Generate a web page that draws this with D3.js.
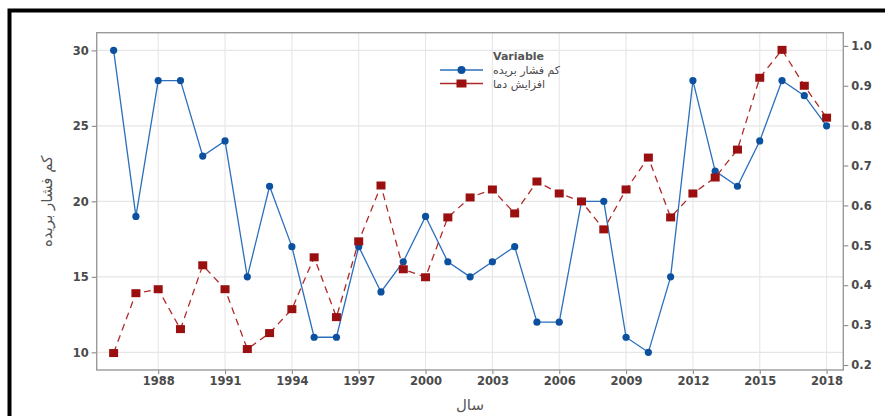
<!DOCTYPE html>
<html>
<head>
<meta charset="utf-8">
<script src="https://cdn.jsdelivr.net/npm/d3@7"></script>
<style>
  body { margin: 0; background: #fff; }
  svg { display: block; }
</style>
</head>
<body>
<svg id="chart" width="885" height="416"></svg>
<script>
'use strict';

// years on the x axis
var years = [1986, 1987, 1988, 1989, 1990, 1991, 1992, 1993, 1994, 1995, 1996,
    1997, 1998, 1999, 2000, 2001, 2002, 2003, 2004, 2005, 2006, 2007, 2008,
    2009, 2010, 2011, 2012, 2013, 2014, 2015, 2016, 2017, 2018];

// left axis series (blue, circles)
var pressure = [30, 19, 28, 28, 23, 24, 15, 21, 17, 11, 11,
    17, 14, 16, 19, 16, 15, 16, 17, 12, 12, 20, 20,
    11, 10, 15, 28, 22, 21, 24, 28, 27, 25];

// right axis series (red, squares, dashed)
var warming = [0.23, 0.38, 0.39, 0.29, 0.45, 0.39, 0.24, 0.28, 0.34, 0.47, 0.32,
    0.51, 0.65, 0.44, 0.42, 0.57, 0.62, 0.64, 0.58, 0.66, 0.63, 0.61, 0.54,
    0.64, 0.72, 0.57, 0.63, 0.67, 0.74, 0.92, 0.99, 0.90, 0.82];

var xTicks = [1988, 1991, 1994, 1997, 2000, 2003, 2006, 2009, 2012, 2015, 2018];
var leftTicks = [10, 15, 20, 25, 30];
var rightTicks = [0.2, 0.3, 0.4, 0.5, 0.6, 0.7, 0.8, 0.9, 1.0];

var seriesNames = ['کم فشار بریده', 'افزایش دما'];
var legendTitle = 'Variable';
var xTitle = 'سال';
var yTitle = 'کم فشار بریده';

var font = 'DejaVu Sans, sans-serif',
    blueLine = '#2b6fbd',
    blueDot = '#0c50a0',
    redLine = '#b02a2a',
    redDot = '#9a1010',
    gridColor = '#e6e6e6',
    textColor = '#4a4a4a';

var panel = {left: 96.7, right: 843.3, top: 32.7, bottom: 370};

var svg = d3.select('#chart');

// outer black frame (runs off the right and bottom edges)
svg.append('rect')
    .attr('x', 9.5).attr('y', 10.5)
    .attr('width', 920).attr('height', 500)
    .attr('fill', 'none')
    .attr('stroke', '#000')
    .attr('stroke-width', 4);

var x = d3.scaleLinear()
    .domain([1985.24, 2018.75])
    .range([panel.left, panel.right]);

var yLeft = d3.scaleLinear()
    .domain([8.83, 31.17])
    .range([panel.bottom, panel.top]);

var yRight = d3.scaleLinear()
    .domain([0.1875, 1.033])
    .range([panel.bottom, panel.top]);

// grid lines
var grid = svg.append('g');

grid.selectAll('.gx')
        .data(xTicks)
    .enter().append('line')
    .attr('x1', function(d) { return x(d); })
    .attr('x2', function(d) { return x(d); })
    .attr('y1', panel.top).attr('y2', panel.bottom)
    .attr('stroke', gridColor).attr('stroke-width', 1.1);

grid.selectAll('.gy')
        .data(leftTicks)
    .enter().append('line')
    .attr('y1', function(d) { return yLeft(d); })
    .attr('y2', function(d) { return yLeft(d); })
    .attr('x1', panel.left).attr('x2', panel.right)
    .attr('stroke', gridColor).attr('stroke-width', 1.1);

// axes
function styleAxis(g) {
    g.select('.domain').remove();
    g.selectAll('.tick line').attr('stroke', '#8a8a8a').attr('stroke-width', 1.1);
    g.selectAll('.tick text')
        .attr('fill', textColor)
        .style('font-family', font)
        .style('font-size', '11.5px')
        .style('font-weight', 'bold');
}

svg.append('g')
    .attr('transform', 'translate(0,' + panel.bottom + ')')
    .call(d3.axisBottom(x).tickValues(xTicks).tickFormat(d3.format('d'))
        .tickSizeOuter(0).tickSize(4).tickPadding(3))
    .call(styleAxis);

svg.append('g')
    .attr('transform', 'translate(' + panel.left + ',0)')
    .call(d3.axisLeft(yLeft).tickValues(leftTicks)
        .tickSizeOuter(0).tickSize(5).tickPadding(3))
    .call(styleAxis);

svg.append('g')
    .attr('transform', 'translate(' + panel.right + ',0)')
    .call(d3.axisRight(yRight).tickValues(rightTicks).tickFormat(d3.format('.1f'))
        .tickSizeOuter(0).tickSize(5).tickPadding(3))
    .call(styleAxis);

// panel border
svg.append('rect')
    .attr('x', panel.left).attr('y', panel.top)
    .attr('width', panel.right - panel.left)
    .attr('height', panel.bottom - panel.top)
    .attr('fill', 'none')
    .attr('stroke', '#9a9a9a')
    .attr('stroke-width', 1.4);

// blue series
var blueData = years.map(function(yr, i) { return [yr, pressure[i]]; });

svg.append('path')
    .datum(blueData)
    .attr('fill', 'none')
    .attr('stroke', blueLine)
    .attr('stroke-width', 1.3)
    .attr('d', d3.line()
        .x(function(d) { return x(d[0]); })
        .y(function(d) { return yLeft(d[1]); }));

svg.append('g').selectAll('circle')
        .data(blueData)
    .enter().append('circle')
    .attr('cx', function(d) { return x(d[0]); })
    .attr('cy', function(d) { return yLeft(d[1]); })
    .attr('r', 3.6)
    .attr('fill', blueDot);

// red series, dashed, on the right axis
var redData = years.map(function(yr, i) { return [yr, warming[i]]; });

svg.append('path')
    .datum(redData)
    .attr('fill', 'none')
    .attr('stroke', redLine)
    .attr('stroke-width', 1.3)
    .attr('stroke-dasharray', '7,5')
    .attr('d', d3.line()
        .x(function(d) { return x(d[0]); })
        .y(function(d) { return yRight(d[1]); }));

svg.append('g').selectAll('rect')
        .data(redData)
    .enter().append('rect')
    .attr('x', function(d) { return x(d[0]) - 4.5; })
    .attr('y', function(d) { return yRight(d[1]) - 4; })
    .attr('width', 9).attr('height', 8)
    .attr('fill', redDot);

// legend
var legend = svg.append('g').attr('transform', 'translate(440,0)');

legend.append('text')
    .attr('x', 53).attr('y', 60)
    .attr('fill', '#555')
    .style('font-family', font)
    .style('font-size', '11px')
    .style('font-weight', 'bold')
    .text(legendTitle);

var keys = legend.selectAll('.key')
        .data(seriesNames)
    .enter().append('g')
    .attr('transform', function(_, i) { return 'translate(0,' + (70 + 13.5 * i) + ')'; });

keys.append('line')
    .attr('x1', 0).attr('x2', 43)
    .attr('stroke', function(_, i) { return i ? redLine : blueLine; })
    .attr('stroke-width', 1.3);

keys.each(function(_, i) {
    var k = d3.select(this);
    if(i === 0) {
        k.append('circle').attr('cx', 21.5).attr('r', 4).attr('fill', blueDot);
    }
    else {
        k.append('rect').attr('x', 16.5).attr('y', -4)
            .attr('width', 10).attr('height', 8).attr('fill', redDot);
    }
});

keys.append('text')
    .attr('x', 53).attr('y', 4)
    .attr('fill', textColor)
    .style('font-family', font)
    .style('font-size', '11px')
    .attr('direction', 'ltr')
    .text(function(d) { return d; });

// axis titles
svg.append('text')
    .attr('x', (panel.left + panel.right) / 2).attr('y', 410)
    .attr('text-anchor', 'middle')
    .attr('fill', '#555')
    .style('font-family', font)
    .style('font-size', '15px')
    .text(xTitle);

svg.append('text')
    .attr('transform', 'translate(52,' + ((panel.top + panel.bottom) / 2) + ') rotate(-90)')
    .attr('text-anchor', 'middle')
    .attr('fill', '#555')
    .style('font-family', font)
    .style('font-size', '15px')
    .text(yTitle);
</script>
</body>
</html>
